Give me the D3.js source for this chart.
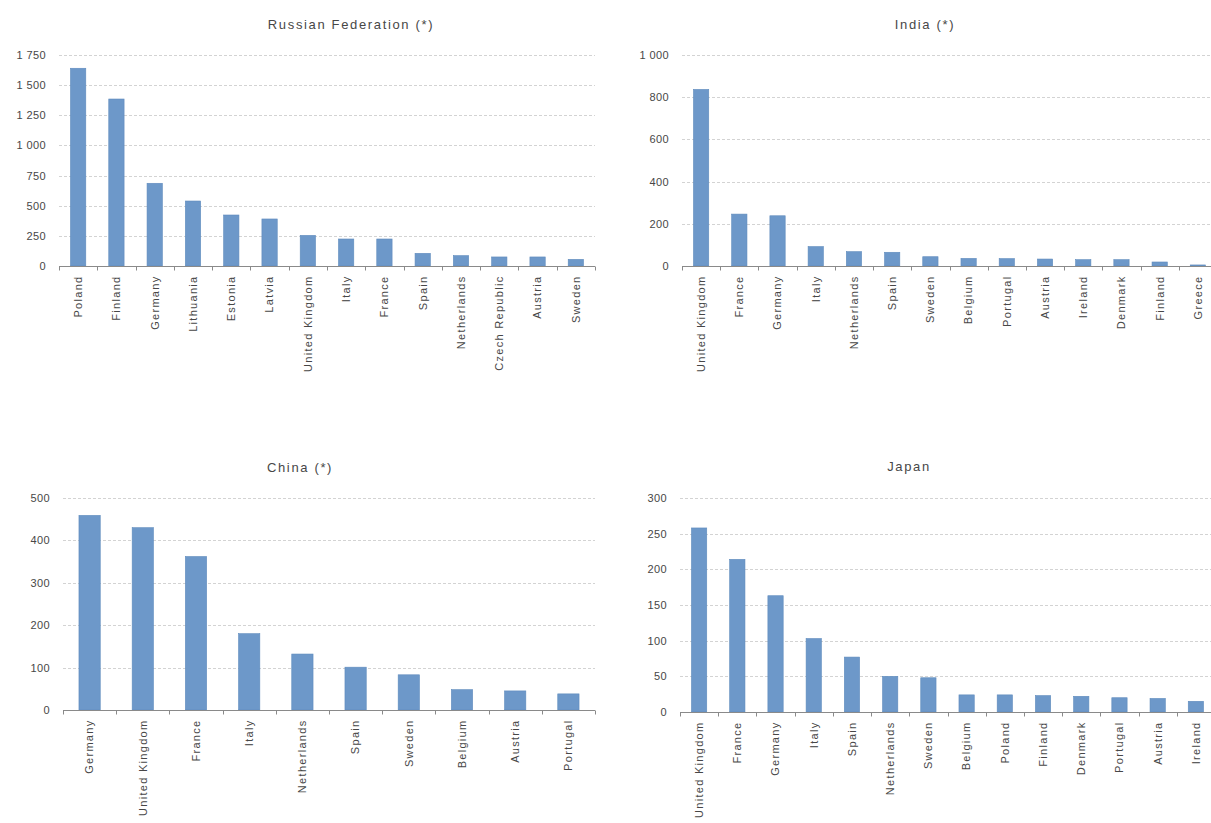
<!DOCTYPE html>
<html>
<head>
 <meta charset="UTF-8">
 <title>Russian Federation, India, China, Japan</title>
 <script src="https://cdn.jsdelivr.net/npm/d3@7"></script>
 <style>
body {
  margin: 0;
  background: #fff;
}
text {
  font-family: "Liberation Sans", Arial, sans-serif;
  fill: #474747;
}
.title {
  font-size: 13px;
  letter-spacing: 1.65px;
}
.xlab text {
  font-size: 11px;
  letter-spacing: 1.3px;
}
.ylab text {
  font-size: 11px;
  letter-spacing: 0.4px;
}
.grid line {
  stroke: #d3d3d3;
  stroke-dasharray: 3,2;
}
.bar {
  fill: #6d98c9;
  stroke: #5f8bbd;
  stroke-width: 0.6px;
}
.base {
  stroke: #8a8a8a;
}
 </style>
</head>
<body>
<svg id="chart" width="1211" height="823"></svg>
<script>
// values
var russiaCountries = ["Poland", "Finland", "Germany", "Lithuania", "Estonia", "Latvia", "United Kingdom",
  "Italy", "France", "Spain", "Netherlands", "Czech Republic", "Austria", "Sweden"];
var russiaValues = [1640, 1385, 686, 539, 423, 390, 254, 224, 224, 105, 86, 75, 75, 55];
var russiaTicks = [0, 250, 500, 750, 1000, 1250, 1500, 1750];

var indiaCountries = ["United Kingdom", "France", "Germany", "Italy", "Netherlands", "Spain", "Sweden",
  "Belgium", "Portugal", "Austria", "Ireland", "Denmark", "Finland", "Greece"];
var indiaValues = [837, 246, 238, 92, 68, 65, 44, 36, 35, 33, 30, 30, 19, 5];
var indiaTicks = [0, 200, 400, 600, 800, 1000];

var chinaCountries = ["Germany", "United Kingdom", "France", "Italy", "Netherlands", "Spain", "Sweden",
  "Belgium", "Austria", "Portugal"];
var chinaValues = [459, 430, 362, 180, 132, 101, 83, 48, 45, 38];
var chinaTicks = [0, 100, 200, 300, 400, 500];

var japanCountries = ["United Kingdom", "France", "Germany", "Italy", "Spain", "Netherlands", "Sweden",
  "Belgium", "Poland", "Finland", "Denmark", "Portugal", "Austria", "Ireland"];
var japanValues = [258, 214, 163, 103, 77, 50, 48, 24, 24, 23, 22, 20, 19, 15];
var japanTicks = [0, 50, 100, 150, 200, 250, 300];

var panels = [
  {title: "Russian Federation (*)", cats: russiaCountries, vals: russiaValues, ticks: russiaTicks,
   x0: 59, x1: 595, top: 55, zero: 266, tx: 351, ty: 29},
  {title: "India (*)", cats: indiaCountries, vals: indiaValues, ticks: indiaTicks,
   x0: 682, x1: 1217, top: 55, zero: 266, tx: 925, ty: 29},
  {title: "China (*)", cats: chinaCountries, vals: chinaValues, ticks: chinaTicks,
   x0: 63, x1: 595, top: 498, zero: 710, tx: 300, ty: 472},
  {title: "Japan", cats: japanCountries, vals: japanValues, ticks: japanTicks,
   x0: 680, x1: 1215, top: 498, zero: 712, tx: 909, ty: 471}
];

var fmt = d3.formatLocale({decimal: ",", thousands: " ", grouping: [3], currency: ["", ""]}).format(",d");
var svg = d3.select("#chart");

panels.forEach(function(p){
  var g = svg.append("g"),
    x = d3.scaleBand()
      .domain(p.cats)
      .range([p.x0, p.x1])
      .paddingInner(0.6)
      .paddingOuter(0.3),
    y = d3.scaleLinear()
      .domain([0, d3.max(p.ticks)])
      .range([p.zero, p.top]),
    step = x.step();

  g.append("text")
    .attr("class", "title")
    .attr("x", p.tx)
    .attr("y", p.ty)
    .attr("text-anchor", "middle")
    .text(p.title);

  g.append("g")
    .attr("class", "grid")
    .selectAll("line")
    .data(p.ticks.slice(1))
    .join("line")
      .attr("x1", p.x0)
      .attr("x2", p.x1)
      .attr("y1", function(d){ return Math.round(y(d)) + 0.5; })
      .attr("y2", function(d){ return Math.round(y(d)) + 0.5; });

  g.append("g")
    .attr("class", "ylab")
    .attr("transform", "translate(" + p.x0 + ",0)")
    .call(d3.axisLeft(y).tickValues(p.ticks).tickSize(0).tickPadding(13).tickFormat(fmt))
    .call(function(a){ a.select(".domain").remove(); });

  g.selectAll("rect.bar")
    .data(p.vals)
    .join("rect")
      .attr("class", "bar")
      .attr("x", function(d, i){ return x(p.cats[i]); })
      .attr("width", x.bandwidth())
      .attr("y", function(d){ return y(d); })
      .attr("height", function(d){ return y(0) - y(d); });

  // base line with ticks between categories
  var base = Math.round(y(0)) + 0.5;
  g.append("line")
    .attr("class", "base")
    .attr("x1", p.x0)
    .attr("x2", p.x1)
    .attr("y1", base)
    .attr("y2", base);
  g.selectAll("line.sep")
    .data(d3.range(p.cats.length + 1))
    .join("line")
      .attr("class", "base sep")
      .attr("x1", function(i){ return Math.round(x(p.cats[0]) - step * 0.3 + i * step) + 0.5; })
      .attr("x2", function(i){ return Math.round(x(p.cats[0]) - step * 0.3 + i * step) + 0.5; })
      .attr("y1", base)
      .attr("y2", base + 4);

  g.append("g")
    .attr("class", "xlab")
    .attr("transform", "translate(0," + base + ")")
    .call(d3.axisBottom(x).tickSize(0))
    .call(function(a){ a.select(".domain").remove(); })
    .selectAll("text")
      .attr("transform", "rotate(-90)")
      .attr("text-anchor", "end")
      .attr("x", -9)
      .attr("y", 0)
      .attr("dy", "0.35em");
});
</script>
</body>
</html>
